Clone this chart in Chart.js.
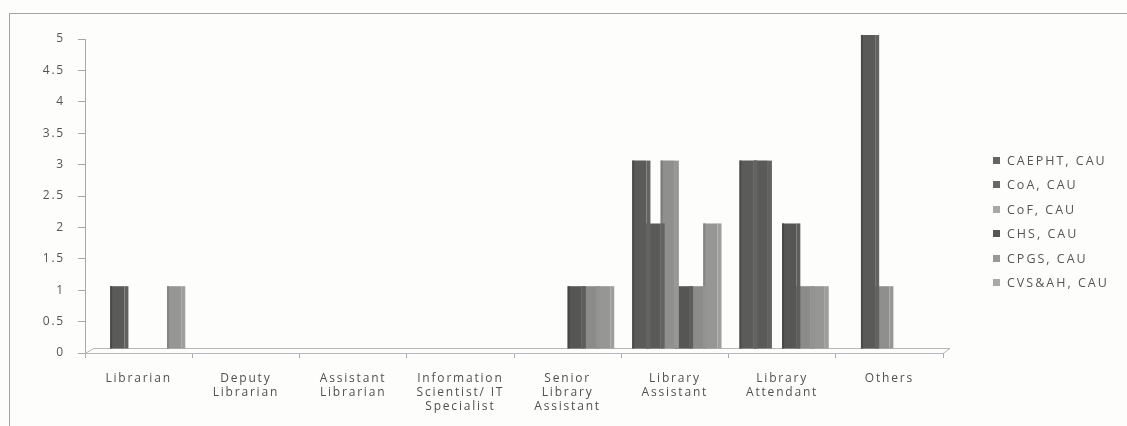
<!DOCTYPE html>
<html>
<head>
<meta charset="utf-8">
<script src="https://cdn.jsdelivr.net/npm/chart.js@4.4.1/dist/chart.umd.min.js"></script>
<style>
  html, body { margin: 0; padding: 0; background: #fdfdfc; }
  #wrap { position: relative; width: 1127px; height: 426px; overflow: hidden; }
  #frame { position: absolute; left: 9px; top: 13px; width: 1300px; height: 600px;
           border-left: 1px solid #a4a4a4; border-top: 1px solid #a4a4a4; }
  #chart { position: absolute; left: 0; top: 0; }
  #legend { position: absolute; left: 993px; top: 148px; font-family: 'Open Sans', sans-serif;
            font-size: 12.5px; color: #555; letter-spacing: 2px; }
  #legend .item { height: 24.5px; display: flex; align-items: center; white-space: nowrap; }
  #legend .box { width: 7px; height: 7px; margin-right: 7px; flex: none; }
</style>
</head>
<body>
<div id="wrap">
  <div id="frame"></div>
  <canvas id="chart" width="1127" height="426"></canvas>
  <div id="legend"></div>
</div>
<script>
// Job categories on the x axis (multi-line labels)
const categories = [
  ['Librarian'],
  ['Deputy', 'Librarian'],
  ['Assistant', 'Librarian'],
  ['Information', 'Scientist/ IT', 'Specialist'],
  ['Senior', 'Library', 'Assistant'],
  ['Library', 'Assistant'],
  ['Library', 'Attendant'],
  ['Others']
];

// Colleges (series names)
const seriesNames = ['CAEPHT, CAU', 'CoA, CAU', 'CoF, CAU', 'CHS, CAU', 'CPGS, CAU', 'CVS&AH, CAU'];

// Staff counts per college, one value per category
const caepht = [0, 0, 0, 0, 0, 3, 3, 0];
const coa    = [1, 0, 0, 0, 0, 2, 3, 5];
const cof    = [0, 0, 0, 0, 0, 3, 0, 1];
const chs    = [0, 0, 0, 0, 1, 1, 2, 0];
const cpgs   = [0, 0, 0, 0, 1, 1, 1, 0];
const cvsah  = [1, 0, 0, 0, 1, 2, 1, 0];

// Value axis ticks
const yTicks = [0, 0.5, 1, 1.5, 2, 2.5, 3, 3.5, 4, 4.5, 5];

const seriesValues = [caepht, coa, cof, chs, cpgs, cvsah];
const faceColors = ['#5b5b59', '#5a5a58', '#8f8f8d', '#565654', '#8b8b89', '#969694'];
const sideColors = ['#636361', '#626260', '#979795', '#5e5e5c', '#939391', '#9e9e9c'];
const edgeColors = ['#4a4a48', '#4a4a48', '#7c7c7a', '#474745', '#797977', '#848482'];
const legendColors = ['#646464', '#686868', '#a8a8a8', '#565656', '#989898', '#a9a9a9'];

const DEPTH_X = 4, DEPTH_Y = 4;

// Floor of the pseudo-3D plot area, columns standing behind its front edge
const floorPlugin = {
  id: 'floor',
  beforeDatasetsDraw(chart) {
    const { ctx, chartArea: a } = chart;
    ctx.save();
    ctx.strokeStyle = '#b4b8bf';
    ctx.lineWidth = 1;
    ctx.beginPath();
    ctx.moveTo(a.left, a.bottom + 0.5);
    ctx.lineTo(a.left + 9, a.bottom - 5 + 0.5);
    ctx.lineTo(a.right + 7, a.bottom - 5 + 0.5);
    ctx.lineTo(a.right, a.bottom + 0.5);
    ctx.stroke();
    ctx.restore();
    ctx.save();
    ctx.translate(0, -DEPTH_Y);
  },
  afterDatasetDraw(chart, args) {
    // side face and shaded left edge of each column, from the element geometry
    const ctx = chart.ctx;
    const meta = args.meta;
    ctx.save();
    meta.data.forEach((el, i) => {
      const v = chart.data.datasets[args.index].data[i];
      if (!v) return;
      const p = el.getProps(['x', 'y', 'base', 'width'], true);
      const xl = p.x - p.width / 2;
      const xr = p.x + p.width / 2;
      ctx.fillStyle = edgeColors[args.index];
      ctx.fillRect(xl, p.y, 2, p.base - p.y);
      ctx.fillStyle = sideColors[args.index];
      ctx.fillRect(xr, p.y, DEPTH_X, p.base - p.y);
    });
    ctx.restore();
  },
  afterDatasetsDraw(chart) {
    chart.ctx.restore();
  }
};

const spacingPlugin = {
  id: 'spacing',
  beforeUpdate(chart) { chart.ctx.letterSpacing = '1.8px'; },
  beforeDraw(chart) { chart.ctx.letterSpacing = '1.8px'; }
};

const ctx = document.getElementById('chart').getContext('2d');
new Chart(ctx, {
  type: 'bar',
  data: {
    labels: categories,
    datasets: seriesValues.map((vals, i) => ({
      label: seriesNames[i],
      data: vals,
      backgroundColor: faceColors[i],
      borderWidth: 0,
      categoryPercentage: 0.795,
      barPercentage: 1.0
    }))
  },
  options: {
    responsive: false,
    animation: false,
    devicePixelRatio: 1,
    layout: { padding: { top: 39, right: 184, bottom: 0, left: 0 } },
    plugins: { legend: { display: false }, tooltip: { enabled: false } },
    scales: {
      x: {
        grid: { display: true, drawOnChartArea: false, offset: true, tickLength: 5, color: '#a9adb4' },
        border: { display: true, color: '#b4b8bf' },
        ticks: {
          maxRotation: 0, autoSkip: false, padding: 13, color: '#505050',
          font: { family: 'Open Sans', size: 12, lineHeight: 1.2 }
        },
        afterFit(scale) { scale.height = 73; }
      },
      y: {
        min: 0, max: 5,
        afterBuildTicks(scale) { scale.ticks = yTicks.map(v => ({ value: v })); },
        grid: { display: true, drawOnChartArea: false, tickLength: 7, color: '#a8a8a8' },
        border: { display: true, color: '#a8a8a8' },
        ticks: {
          padding: 13, color: '#555',
          font: { family: 'Open Sans', size: 12 },
          callback: v => String(v)
        },
        afterFit(scale) { scale.width = 85; }
      }
    }
  },
  plugins: [spacingPlugin, floorPlugin]
});

// Legend built from the series names
const legend = document.getElementById('legend');
seriesNames.forEach((name, i) => {
  const item = document.createElement('div');
  item.className = 'item';
  const box = document.createElement('span');
  box.className = 'box';
  box.style.background = legendColors[i];
  const txt = document.createElement('span');
  txt.textContent = name;
  item.appendChild(box);
  item.appendChild(txt);
  legend.appendChild(item);
});
</script>
</body>
</html>
